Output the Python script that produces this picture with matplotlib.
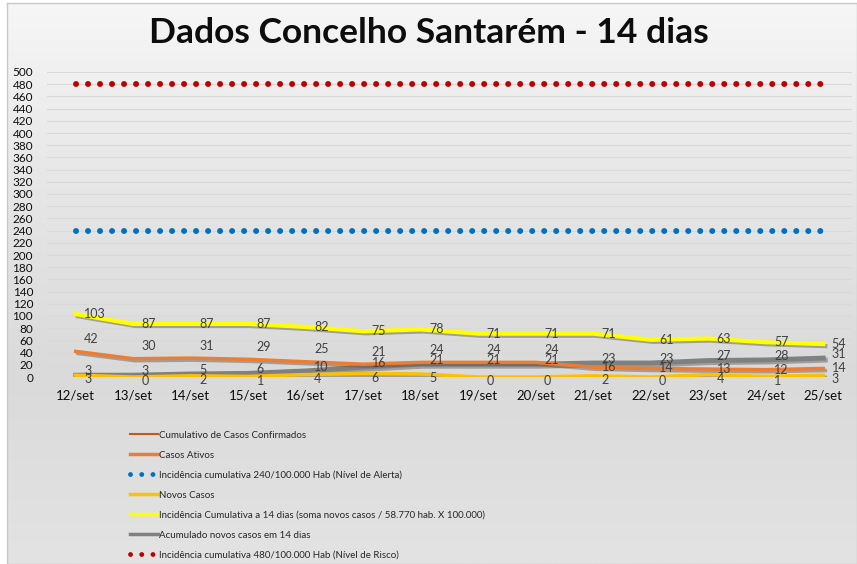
import matplotlib
matplotlib.use("Agg")
import matplotlib.pyplot as plt
import matplotlib.patheffects as pe
from matplotlib.lines import Line2D
import numpy as np

plt.rcParams['font.family'] = ['Lato', 'DejaVu Sans']

# data
dias = ['12/set', '13/set', '14/set', '15/set', '16/set', '17/set', '18/set',
        '19/set', '20/set', '21/set', '22/set', '23/set', '24/set', '25/set']
incidencia_14d = [103, 87, 87, 87, 82, 75, 78, 71, 71, 71, 61, 63, 57, 54]
casos_ativos = [42, 30, 31, 29, 25, 21, 24, 24, 24, 16, 14, 13, 12, 14]
acumulado_14d = [3, 3, 5, 6, 10, 16, 21, 21, 21, 23, 23, 27, 28, 31]
novos_casos = [3, 0, 2, 1, 4, 6, 5, 0, 0, 2, 0, 4, 1, 3]
nivel_alerta = 240
nivel_risco = 480

W, H = 857, 564
fig = plt.figure(figsize=(W / 100, H / 100), dpi=100)

# background with soft vertical gradient and thin border
bg = fig.add_axes([7 / W, 0, 1 - 7 / W, 1 - 3 / H], zorder=-10)
grad = np.linspace(0, 1, 256).reshape(-1, 1)
bg.imshow(grad, aspect='auto', cmap=matplotlib.colors.LinearSegmentedColormap.from_list(
    'bg', ['#f6f6f6', '#e6e6e6', '#dadada', '#e3e3e3']), extent=[0, 1, 0, 1], origin='upper')
bg.set_xticks([])
bg.set_yticks([])
for s in bg.spines.values():
    s.set_color('#c8c8c8')
    s.set_linewidth(1)

fig.text(0.5, 1 - 33 / H, 'Dados Concelho Santarém - 14 dias', ha='center', va='center',
         fontsize=25.5, fontweight='bold', color='#0d0d0d')

ax = fig.add_axes([47 / W, 1 - 377 / H, (852 - 47) / W, (377 - 72) / H])
ax.set_facecolor('none')
x = np.arange(len(dias))

shadow = [pe.SimpleLineShadow(offset=(1.5, -1.5), shadow_color='#555555', alpha=0.45), pe.Normal()]

ax.plot(x, [nivel_risco] * len(x), color='#c00000', lw=4.3, linestyle=(0, (0.01, 2.0)),
        dash_capstyle='round', zorder=3)
ax.plot(x, [nivel_alerta] * len(x), color='#0070c0', lw=4.3, linestyle=(0, (0.01, 2.0)),
        dash_capstyle='round', zorder=3)
ax.plot(x, acumulado_14d, color='#808080', lw=3.5, zorder=4, path_effects=shadow)
ax.plot(x, casos_ativos, color='#c55a11', lw=1.2, zorder=4)
ax.plot(x, casos_ativos, color='#ed7d31', lw=2.5, zorder=5, path_effects=shadow)
ax.plot(x, novos_casos, color='#ffc000', lw=2.5, zorder=5, path_effects=shadow)
ax.plot(x, incidencia_14d, color='#ffff00', lw=3, zorder=6, path_effects=shadow)

lbl = dict(fontsize=9, color='#404040', ha='left', va='center', zorder=8)
for i in x:
    ax.annotate(str(incidencia_14d[i]), (i, incidencia_14d[i]), xytext=(6, 0),
                textcoords='offset points', **lbl)
    if casos_ativos[i] >= acumulado_14d[i]:
        d_at, d_ac = 9, 3
    else:
        d_at, d_ac = 0, 3
    ax.annotate(str(casos_ativos[i]), (i, casos_ativos[i]), xytext=(6, d_at),
                textcoords='offset points', **lbl)
    ax.annotate(str(acumulado_14d[i]), (i, acumulado_14d[i]), xytext=(6, d_ac),
                textcoords='offset points', **lbl)
    ax.annotate(str(novos_casos[i]), (i, novos_casos[i]), xytext=(6, -3),
                textcoords='offset points', **lbl)

ax.set_xlim(-0.5, len(dias) - 0.5)
ax.set_ylim(0, 500)
ax.set_yticks(np.arange(0, 501, 20))
ax.set_xticks(x)
ax.set_xticklabels(dias, fontsize=9.5, color='#0d0d0d')
ax.tick_params(axis='y', labelsize=8.5, labelcolor='#0d0d0d', length=0, pad=10)
ax.tick_params(axis='x', length=0, pad=9)
ax.grid(axis='y', color='#d9d9d9', lw=0.8)
ax.set_axisbelow(True)
for s in ax.spines.values():
    s.set_visible(False)

handles = [
    Line2D([], [], color='#c55a11', lw=1.5),
    Line2D([], [], color='#ed7d31', lw=2.5),
    Line2D([], [], color='#0070c0', lw=3.5, linestyle=(0, (0.01, 2.3)), dash_capstyle='round'),
    Line2D([], [], color='#ffc000', lw=2.5),
    Line2D([], [], color='#ffff00', lw=2.5),
    Line2D([], [], color='#808080', lw=2.5),
    Line2D([], [], color='#c00000', lw=3.5, linestyle=(0, (0.01, 2.3)), dash_capstyle='round'),
]
labels = [
    'Cumulativo de Casos Confirmados',
    'Casos Ativos',
    'Incidência cumulativa 240/100.000 Hab (Nível de Alerta)',
    'Novos Casos',
    'Incidência Cumulativa a 14 dias (soma novos casos / 58.770 hab. X 100.000)',
    'Acumulado novos casos em 14 dias',
    'Incidência cumulativa 480/100.000 Hab (Nível de Risco)',
]
fig.legend(handles, labels, loc='upper left', bbox_to_anchor=(121 / W, 1 - 422 / H),
           frameon=False, fontsize=7, handlelength=2.9, handletextpad=0.1,
           labelspacing=1.13, labelcolor='#262626')

fig.savefig('out.png', dpi=100)
